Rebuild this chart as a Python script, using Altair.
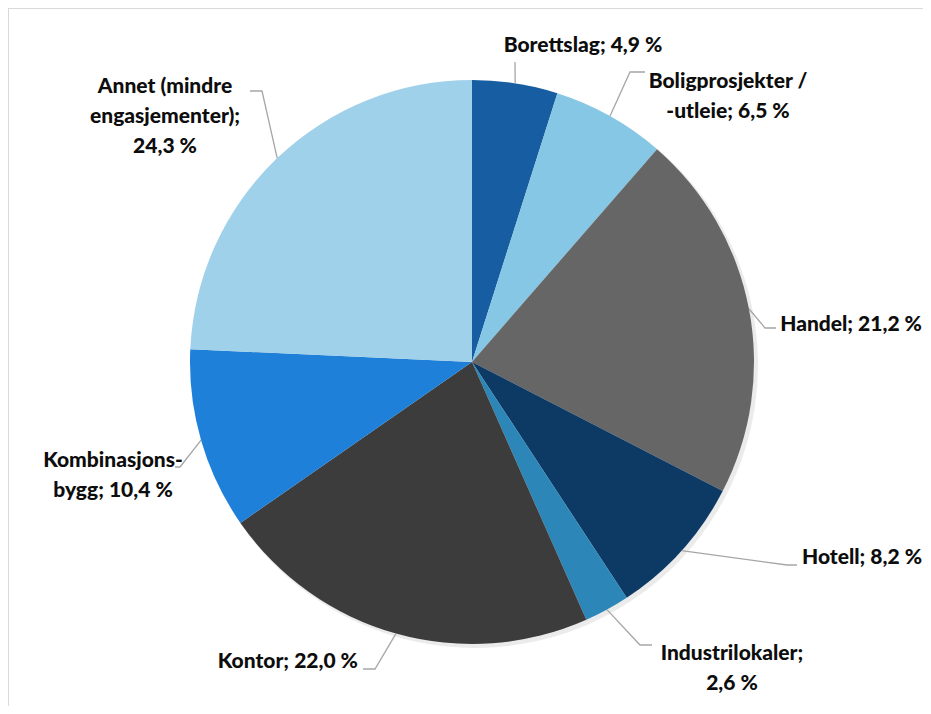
import math
import altair as alt
import pandas as pd

# ---- data ----
categories = ["Borettslag", "Boligprosjekter / -utleie", "Handel", "Hotell",
              "Industrilokaler", "Kontor", "Kombinasjonsbygg",
              "Annet (mindre engasjementer)"]
values = [4.9, 6.5, 21.2, 8.2, 2.6, 22.0, 10.4, 24.3]
label_texts = ["Borettslag; 4,9 %",
               "Boligprosjekter /\n-utleie; 6,5 %",
               "Handel; 21,2 %",
               "Hotell; 8,2 %",
               "Industrilokaler;\n2,6 %",
               "Kontor; 22,0 %",
               "Kombinasjons-\nbygg; 10,4 %",
               "Annet (mindre\nengasjementer);\n24,3 %"]
colors = ["#175DA1", "#87C7E6", "#666666", "#0D3A64",
          "#2C87B8", "#3C3C3C", "#1E80D8", "#A0D1EA"]

# ---- layout ----
W, H = 915, 698
CX, CY, R = 464, 354, 282
# label anchor (x, y, align) and leader elbow/end points (chart pixel space)
label_pos = [(575, 38, "center"), (720, 74, "center"), (914, 317, "right"),
             (914, 550, "right"), (724, 646, "center"), (350, 654, "right"),
             (105, 453, "center"), (157, 79, "center")]
leader_pts = [[(507, 54)], [(622, 64), (637, 64)], [(757, 320), (768, 320)],
              [(779, 557), (789, 557)], [(632, 637), (644, 637)],
              [(367, 661), (355, 661)], [(172, 459), (167, 459)],
              [(254, 83), (242, 83)]]

pie_df = pd.DataFrame({"cat": categories, "val": values,
                       "idx": list(range(len(values)))})

total = sum(values)
lines_rows = []
cum = 0.0
for i, v in enumerate(values):
    mid = (cum + v / 2) / total * 2 * math.pi
    cum += v
    sx = CX + R * math.sin(mid)
    sy = CY - R * math.cos(mid)
    pts = [(sx, sy)] + leader_pts[i]
    for k, (px, py) in enumerate(pts):
        lines_rows.append({"cat": categories[i], "k": k, "x": px, "y": py})
lines_df = pd.DataFrame(lines_rows)

lab_df = pd.DataFrame({"cat": categories, "text": label_texts,
                       "x": [p[0] for p in label_pos],
                       "y": [p[1] for p in label_pos],
                       "align": [p[2] for p in label_pos]})

xs = alt.Scale(domain=[0, W], nice=False, zero=False)
ys = alt.Scale(domain=[H, 0], nice=False, zero=False)

shadow = alt.Chart(pie_df).mark_arc(radius=R + 1, color="#000000", opacity=0.08).encode(
    theta=alt.Theta("val:Q", stack=True),
    order=alt.Order("idx:Q"),
    x=alt.value(CX + 3), y=alt.value(CY + 3),
)

pie = alt.Chart(pie_df).mark_arc(radius=R).encode(
    theta=alt.Theta("val:Q", stack=True),
    order=alt.Order("idx:Q"),
    color=alt.Color("cat:N", scale=alt.Scale(domain=categories, range=colors), legend=None),
    x=alt.value(CX), y=alt.value(CY),
)

leaders = alt.Chart(lines_df).mark_line(color="#A6A6A6", strokeWidth=1.3).encode(
    x=alt.X("x:Q", scale=xs, axis=None),
    y=alt.Y("y:Q", scale=ys, axis=None),
    detail="cat:N",
    order="k:Q",
)

text_layers = []
for al in ["left", "center", "right"]:
    sub = lab_df[lab_df["align"] == al]
    if len(sub) == 0:
        continue
    text_layers.append(
        alt.Chart(sub).mark_text(align=al, baseline="middle", font="Lato",
                                 fontWeight=900, fontSize=21, lineHeight=30,
                                 lineBreak="\n", color="#0D0D0D").encode(
            x=alt.X("x:Q", scale=xs, axis=None),
            y=alt.Y("y:Q", scale=ys, axis=None),
            text="text:N",
        )
    )

border_top = alt.Chart(pie_df).mark_rule(color="#D9D9D9", strokeWidth=1.5).encode(
    x=alt.value(0), x2=alt.value(W), y=alt.value(0))
border_left = alt.Chart(pie_df).mark_rule(color="#D9D9D9", strokeWidth=1.5).encode(
    x=alt.value(0), y=alt.value(0), y2=alt.value(H))

chart = alt.layer(shadow, pie, leaders, *text_layers, border_top, border_left).resolve_scale(
    theta="independent", color="independent"
).properties(
    width=W, height=H, padding=0, autosize=alt.AutoSizeParams(type="none")
).configure_view(stroke=None)

chart.save("out.html", embed_options={"renderer": "svg", "actions": False})
